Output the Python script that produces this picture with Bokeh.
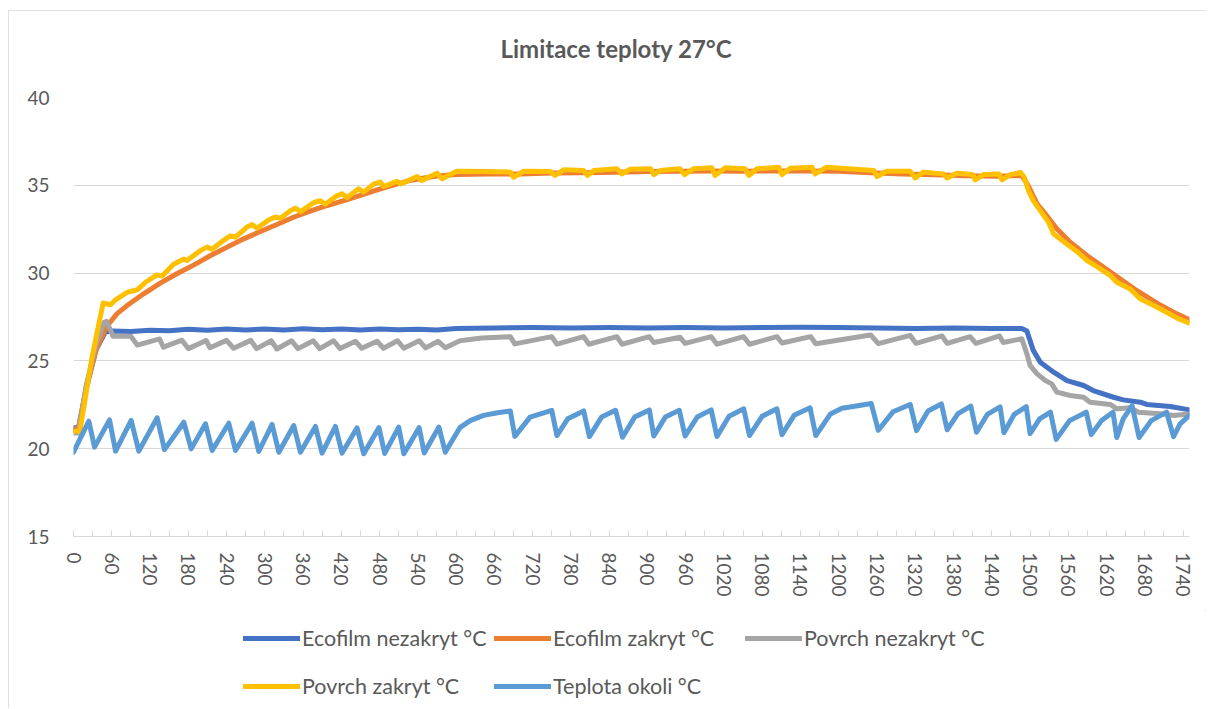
from bokeh.plotting import figure
from bokeh.layouts import column
from bokeh.models import Range1d, FixedTicker, SingleIntervalTicker, Legend, LegendItem, Title
from bokeh.embed import file_html
from bokeh.resources import INLINE

title_text = "Limitace teploty 27°C"
series_names = ["Ecofilm nezakryt °C", "Ecofilm zakryt °C", "Povrch nezakryt °C",
                "Povrch zakryt °C", "Teplota okoli °C"]
series_colors = ["#4472C4", "#ED7D31", "#A5A5A5", "#FFC000", "#5B9BD5"]
y_ticks = [15, 20, 25, 30, 35, 40]

# (time, temperature) vertices
ecofilm_nezakryt = [
    (0, 21.2), (8, 21.2), (20, 23.4), (35, 25.6), (50, 26.65), (60, 26.7), (90, 26.68),
    (120, 26.75), (150, 26.72), (180, 26.8), (210, 26.75), (240, 26.82), (270, 26.76),
    (300, 26.82), (330, 26.76), (360, 26.83), (390, 26.77), (420, 26.82), (450, 26.76),
    (480, 26.82), (510, 26.78), (540, 26.8), (570, 26.76), (600, 26.84), (660, 26.88),
    (720, 26.9), (780, 26.88), (840, 26.9), (900, 26.88), (960, 26.9), (1020, 26.88),
    (1080, 26.9), (1140, 26.92), (1200, 26.9), (1260, 26.88), (1320, 26.85), (1380, 26.87),
    (1440, 26.84), (1487, 26.85), (1495, 26.7), (1505, 25.6), (1516, 24.93), (1537, 24.36),
    (1558, 23.88), (1584, 23.6), (1599, 23.31), (1631, 22.93), (1646, 22.78), (1673, 22.65),
    (1683, 22.52), (1720, 22.4), (1750, 22.21),
]

ecofilm_zakryt = [
    (0, 21.1), (8, 21.2), (21, 23.7), (37, 25.8), (53, 27.0), (68, 27.68), (84, 28.15),
    (110, 28.82), (136, 29.43), (162, 29.96), (189, 30.47), (215, 31.0), (241, 31.48),
    (267, 31.95), (293, 32.37), (319, 32.77), (345, 33.18), (371, 33.53), (398, 33.85),
    (424, 34.13), (450, 34.42), (475, 34.72), (500, 35.0), (525, 35.25), (550, 35.42),
    (575, 35.55), (600, 35.62), (650, 35.65), (700, 35.65), (750, 35.7), (800, 35.72),
    (850, 35.75), (900, 35.78), (950, 35.8), (1000, 35.82), (1050, 35.8), (1100, 35.82),
    (1150, 35.82), (1200, 35.8), (1250, 35.72), (1300, 35.65), (1350, 35.6), (1400, 35.55),
    (1450, 35.52), (1487, 35.56), (1497, 34.99), (1511, 33.94), (1524, 33.37), (1542, 32.52),
    (1563, 31.76), (1589, 31.0), (1615, 30.34), (1641, 29.67), (1667, 29.01), (1699, 28.29),
    (1730, 27.68), (1750, 27.34),
]

povrch_nezakryt = [
    (0, 20.9), (8, 20.9), (20, 23.6), (35, 25.9), (48, 27.2), (52, 27.25), (62, 26.4),
    (90, 26.4), (100, 25.9), (135, 26.25), (141, 25.78), (170, 26.18), (180, 25.7),
    (208, 26.16), (214, 25.75), (240, 26.17), (251, 25.72), (278, 26.17), (287, 25.7),
    (310, 26.15), (319, 25.68), (342, 26.15), (352, 25.7), (376, 26.15), (386, 25.7),
    (408, 26.15), (418, 25.7), (442, 26.12), (452, 25.72), (476, 26.12), (486, 25.72),
    (508, 26.15), (518, 25.72), (542, 26.15), (552, 25.74), (572, 26.12), (583, 25.75),
    (606, 26.15), (640, 26.3), (685, 26.38), (692, 25.97), (750, 26.38), (758, 25.95),
    (800, 26.38), (808, 25.95), (852, 26.38), (860, 25.95), (903, 26.38), (910, 26.05),
    (951, 26.35), (959, 26.0), (1000, 26.38), (1009, 25.95), (1051, 26.38), (1060, 25.95),
    (1103, 26.38), (1111, 26.02), (1156, 26.38), (1164, 25.98), (1250, 26.48), (1262, 25.98),
    (1312, 26.45), (1321, 26.0), (1362, 26.42), (1370, 26.0), (1406, 26.38), (1415, 26.0),
    (1452, 26.42), (1458, 26.05), (1487, 26.26), (1495, 25.4), (1500, 24.74), (1511, 24.26),
    (1524, 23.88), (1534, 23.69), (1542, 23.22), (1563, 23.03), (1584, 22.93), (1594, 22.65),
    (1626, 22.52), (1636, 22.27), (1657, 22.33), (1670, 22.08), (1709, 21.98), (1725, 21.89),
    (1750, 21.98),
]

povrch_zakryt = [
    (0, 21.0), (10, 21.0), (29, 25.2), (46.5, 28.3), (58, 28.2), (66, 28.48), (84, 28.9),
    (100, 29.05), (113, 29.48), (131, 29.9), (139, 29.83), (157, 30.5), (173, 30.8),
    (178, 30.72), (199, 31.28), (209.5, 31.48), (217, 31.36), (236, 31.88), (246, 32.12),
    (254, 32.05), (272, 32.62), (280, 32.76), (288, 32.56), (306, 33.02), (316.6, 33.2),
    (324.5, 33.12), (340, 33.55), (348, 33.7), (356, 33.5), (377, 34.02), (387, 34.12),
    (395, 33.93), (413, 34.4), (421, 34.52), (429, 34.3), (447, 34.8), (455, 34.61),
    (471, 35.08), (481, 35.18), (487, 34.93), (507, 35.23), (513, 35.08), (539, 35.5),
    (546, 35.27), (570, 35.69), (578, 35.37), (601, 35.8), (643, 35.78), (685, 35.75),
    (690, 35.46), (706, 35.8), (748, 35.78), (755, 35.56), (769, 35.88), (800, 35.84),
    (806, 35.56), (816, 35.84), (852, 35.94), (860, 35.65), (873, 35.92), (905, 35.94),
    (910, 35.61), (920, 35.84), (951, 35.94), (958, 35.61), (972, 35.94), (1001, 36.0),
    (1006, 35.56), (1022, 36.0), (1053, 35.94), (1059, 35.56), (1072, 35.94), (1106, 36.03),
    (1111, 35.61), (1124, 35.97), (1158, 36.03), (1163, 35.65), (1181, 36.03), (1255, 35.84),
    (1260, 35.5), (1275, 35.8), (1312, 35.8), (1320, 35.42), (1333, 35.75), (1364, 35.65),
    (1370, 35.42), (1385, 35.69), (1410, 35.61), (1414, 35.31), (1427, 35.61), (1451, 35.65),
    (1456, 35.31), (1469, 35.61), (1485, 35.73), (1491, 35.46), (1497.5, 34.7), (1505, 34.13),
    (1516, 33.56), (1529, 32.9), (1537, 32.23), (1552, 31.82), (1573, 31.25), (1589, 30.72),
    (1605, 30.37), (1626, 29.86), (1636, 29.48), (1657, 29.1), (1673, 28.53), (1691, 28.21),
    (1709, 27.87), (1730, 27.45), (1750, 27.15),
]

teplota_okoli = [
    (0, 19.8), (24, 21.57), (33, 20.09), (56.5, 21.64), (66, 19.86), (90.4, 21.61),
    (102.4, 19.86), (131.2, 21.76), (142.7, 19.95), (173, 21.51), (184.5, 19.99), (207, 21.42),
    (217.4, 19.9), (243.5, 21.45), (254, 19.9), (280, 21.45), (290.5, 19.84), (311.4, 21.38),
    (322, 19.8), (345.4, 21.32), (355.8, 19.8), (379.4, 21.27), (389.8, 19.75), (410.7, 21.27),
    (421.2, 19.75), (444.7, 21.19), (455.1, 19.71), (479, 21.2), (488, 19.73), (510, 21.23),
    (518, 19.71), (542, 21.2), (550, 19.75), (573, 21.23), (583, 19.8), (591, 20.3),
    (606, 21.2), (622, 21.6), (643, 21.9), (665, 22.05), (685, 22.15), (692, 20.7),
    (716, 21.8), (750, 22.18), (758, 20.75), (775, 21.7), (800, 22.15), (809, 20.69),
    (828, 21.8), (850, 22.19), (861, 20.65), (880, 21.8), (903, 22.21), (910, 20.72),
    (928, 21.8), (950, 22.19), (959, 20.72), (978, 21.8), (1000, 22.21), (1009, 20.69),
    (1028, 21.85), (1051, 22.27), (1060, 20.75), (1080, 21.85), (1103, 22.27), (1111, 20.8),
    (1130, 21.9), (1155, 22.33), (1164, 20.75), (1187, 21.98), (1205, 22.3), (1230, 22.45),
    (1251, 22.57), (1262, 21.05), (1285, 22.1), (1312, 22.52), (1322, 21.03), (1340, 22.15),
    (1361, 22.55), (1370, 21.08), (1387, 22.0), (1407, 22.43), (1416, 20.94), (1433, 21.95),
    (1453, 22.38), (1459, 20.91), (1475, 21.95), (1494, 22.4), (1500, 20.86), (1515, 21.7),
    (1532, 22.08), (1541, 20.53), (1562, 21.6), (1588, 22.08), (1596, 20.8), (1612, 21.6),
    (1630, 22.08), (1636, 20.64), (1646, 21.7), (1660, 22.45), (1671, 20.64), (1690, 21.6),
    (1714, 22.08), (1725, 20.69), (1735, 21.4), (1750, 21.9),
]

all_series = [ecofilm_nezakryt, ecofilm_zakryt, povrch_nezakryt, povrch_zakryt, teplota_okoli]

FONT = "Lato"
TXT = "#595959"
GRID = "#d9d9d9"
LW = 5

# ---------------- main chart ----------------
p = figure(width=1198, height=600, output_backend="svg", toolbar_location=None,
           x_range=Range1d(0, 1750), y_range=Range1d(15, 40),
           min_border_left=65, min_border_right=17, min_border_top=87, min_border_bottom=74,
           background_fill_color="white", border_fill_color="white")
p.outline_line_color = None

# spacer (closest to the frame) and the chart title above it
p.add_layout(Title(text="\u00a0", text_font_size="1px", standoff=12), "above")
p.add_layout(Title(text=title_text, align="left", offset=427, standoff=40,
                   text_font=FONT, text_font_size="24px", text_font_style="bold",
                   text_color=TXT), "above")

# grid
p.xgrid.grid_line_color = None
p.ygrid.grid_line_color = GRID
p.ygrid.grid_line_width = 1
p.ygrid.ticker = FixedTicker(ticks=y_ticks)

# y axis
p.yaxis.ticker = FixedTicker(ticks=y_ticks)
p.yaxis.axis_line_color = None
p.yaxis.major_tick_line_color = None
p.yaxis.minor_tick_line_color = None
p.yaxis.major_tick_in = 0
p.yaxis.major_tick_out = 0
p.yaxis.minor_tick_out = 0
p.yaxis.major_label_standoff = 24
p.yaxis.major_label_text_font = FONT
p.yaxis.major_label_text_font_size = "19px"
p.yaxis.major_label_text_color = TXT

# x axis
p.xaxis.ticker = SingleIntervalTicker(interval=60, num_minor_ticks=2)
p.xaxis.axis_line_color = GRID
p.xaxis.axis_line_width = 1
p.xaxis.major_tick_line_color = GRID
p.xaxis.minor_tick_line_color = GRID
p.xaxis.major_tick_in = 6
p.xaxis.major_tick_out = 0
p.xaxis.minor_tick_in = 6
p.xaxis.minor_tick_out = 0
p.xaxis.major_label_orientation = "vertical"
p.xaxis.major_label_standoff = 16
p.xaxis.major_label_text_font = FONT
p.xaxis.major_label_text_font_size = "19px"
p.xaxis.major_label_text_color = TXT

for pts, color in zip(all_series, series_colors):
    xs = [a for a, b in pts]
    ys = [b for a, b in pts]
    p.line(xs, ys, line_color=color, line_width=LW, line_cap="round", line_join="round")

# ---------------- legend strip ----------------
# same series drawn again, but the y range is set far above the data so only the legend shows
lg = figure(width=1198, height=98, output_backend="svg", toolbar_location=None,
            x_range=Range1d(0, 1750), y_range=Range1d(100, 101),
            x_axis_type=None, y_axis_type=None,
            min_border_left=0, min_border_right=0, min_border_top=0, min_border_bottom=0,
            background_fill_color="white", border_fill_color="white")
lg.outline_line_color = None
lg.xgrid.visible = False
lg.ygrid.visible = False

legend_renderers = []
for pts, color in zip(all_series, series_colors):
    xs = [a for a, b in pts]
    ys = [b for a, b in pts]
    legend_renderers.append(lg.line(xs, ys, line_color=color, line_width=LW, line_cap="round"))

legend = Legend(items=[LegendItem(label=n, renderers=[r]) for n, r in zip(series_names, legend_renderers)],
                ncols=3, orientation="horizontal", location=(170, 0),
                glyph_width=57, glyph_height=20, label_standoff=2, label_width=188,
                label_height=44, spacing=4, padding=0, margin=0,
                border_line_color=None, background_fill_alpha=0,
                label_text_font=FONT, label_text_font_size="21.5px", label_text_color=TXT)
lg.add_layout(legend)

layout = column(p, lg, spacing=0,
                styles={"margin-left": "8px", "margin-top": "10px",
                        "outline": "1px solid #d9d9d9", "outline-offset": "-1px"})

open("out.html", "w").write(file_html(layout, INLINE))
